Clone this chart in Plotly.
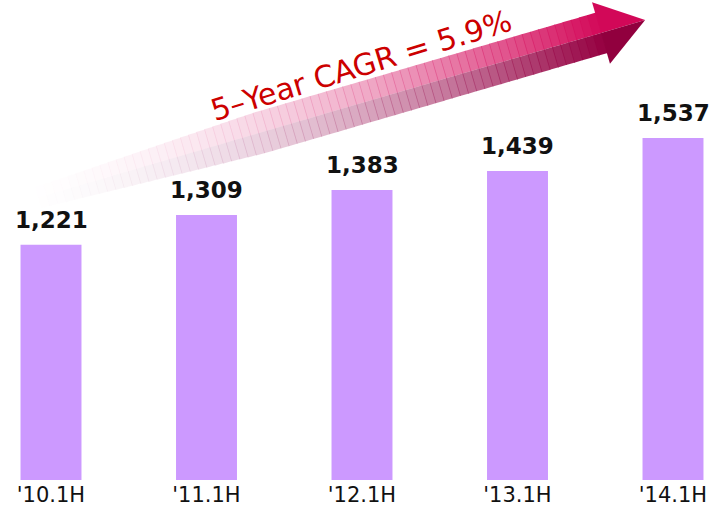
import plotly.graph_objects as go

periods = ["'10.1H", "'11.1H", "'12.1H", "'13.1H", "'14.1H"]
values = [1221, 1309, 1383, 1439, 1537]
cagr_text = "5–Year CAGR = 5.9%"

W, H = 715, 520
PLOT_BOTTOM = 480  # pixel of the bar baseline
PLOT_H = PLOT_BOTTOM


def px(x, y):
    # pixel position -> paper coords
    return x / W, (PLOT_BOTTOM - y) / PLOT_H


def mix(c0, c1, t):
    return tuple(c0[i] + (c1[i] - c0[i]) * t for i in range(4))


def rgba(c):
    return "rgba(%d,%d,%d,%.3f)" % (c[0], c[1], c[2], c[3])


def poly_path(pts):
    return "M " + " L ".join("%.4f,%.4f" % px(*p) for p in pts) + " Z"


fig = go.Figure()
fig.add_trace(go.Bar(
    x=periods, y=values, width=0.392,
    marker=dict(color="#CC99FF", line=dict(width=0)),
    hoverinfo="skip",
))

for p, v in zip(periods, values):
    fig.add_annotation(
        x=p, y=v, text="<b>{:,}</b>".format(v), showarrow=False,
        yanchor="bottom", yshift=10,
        font=dict(family="DejaVu Sans", size=23, color="#111111"),
    )

# gradient arrow (decoration)
shapes = []
p0 = (30.0, 200.0)
p1 = (601.0, 33.0)
dx, dy = p1[0] - p0[0], p1[1] - p0[1]
L = (dx ** 2 + dy ** 2) ** 0.5
u = (dx / L, dy / L)
n = (-u[1], u[0])  # points down-right on screen
hw = 21
N = 70
top0, top1 = (245, 195, 220, 0.0), (212, 10, 90, 1.0)
bot0, bot1 = (215, 175, 205, 0.0), (150, 0, 65, 1.0)
for i in range(N):
    a, b = i / N, (i + 1) / N
    ca = (p0[0] + dx * a, p0[1] + dy * a)
    cb = (p0[0] + dx * b + u[0] * 0.8, p0[1] + dy * b + u[1] * 0.8)
    t = (a + b) / 2
    ft = t ** 1.2
    w = hw * (0.5 + 0.5 * min(1, t * 2.5))
    up = [(ca[0] - n[0] * w, ca[1] - n[1] * w), (cb[0] - n[0] * w, cb[1] - n[1] * w),
          (cb[0], cb[1]), (ca[0], ca[1])]
    lo = [(ca[0], ca[1]), (cb[0], cb[1]),
          (cb[0] + n[0] * w, cb[1] + n[1] * w), (ca[0] + n[0] * w, ca[1] + n[1] * w)]
    for pts, col in ((up, mix(top0, top1, ft)), (lo, mix(bot0, bot1, ft))):
        shapes.append(dict(type="path", xref="paper", yref="paper", layer="below",
                           path=poly_path(pts), fillcolor=rgba(col),
                           line=dict(width=0)))

hh = 32
tip = (p1[0] + u[0] * 46, p1[1] + u[1] * 46)
c_top = (p1[0] - n[0] * hh, p1[1] - n[1] * hh)
c_bot = (p1[0] + n[0] * hh, p1[1] + n[1] * hh)
shapes.append(dict(type="path", xref="paper", yref="paper", layer="below",
                   path=poly_path([c_top, tip, p1]), fillcolor="rgb(210,8,88)",
                   line=dict(width=0)))
shapes.append(dict(type="path", xref="paper", yref="paper", layer="below",
                   path=poly_path([p1, tip, c_bot]), fillcolor="rgb(145,0,62)",
                   line=dict(width=0)))

tx, ty = px(361, 66)
fig.add_annotation(
    x=tx, y=ty, xref="paper", yref="paper", text=cagr_text, showarrow=False,
    textangle=-17, xanchor="center", yanchor="middle",
    font=dict(family="DejaVu Sans", size=30, color="#CC0000"),
)

x_per_cat = 155.5
x_start = -51 / x_per_cat
fig.update_layout(
    width=W, height=H,
    margin=dict(l=0, r=0, t=0, b=H - PLOT_H),
    paper_bgcolor="white", plot_bgcolor="white",
    showlegend=False, shapes=shapes,
    xaxis=dict(range=[x_start, x_start + W / x_per_cat], showgrid=False,
               zeroline=False, showline=False, ticks="",
               tickfont=dict(family="DejaVu Sans", size=21, color="#111111")),
    yaxis=dict(range=[525, 525 + PLOT_H / 0.338], visible=False),
)

# drop the default page margin so the figure sits at the window's corner
fig.write_html("out.html", config={"displayModeBar": False},
               post_script="document.body.style.margin='0';")
